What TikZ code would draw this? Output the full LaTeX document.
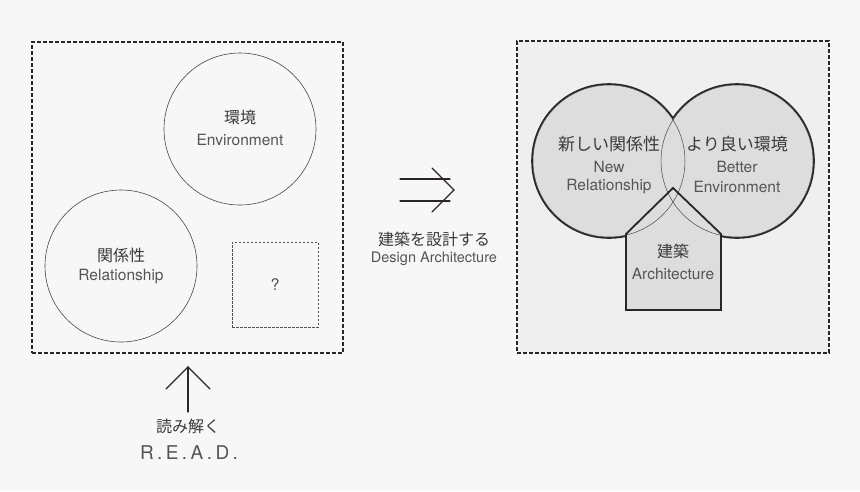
\documentclass[tikz,border=0pt]{standalone}
\usepackage{fontspec}
\setmainfont{TeX Gyre Heros}
\newfontfamily\jp{Noto Sans CJK JP}
\definecolor{bg}{HTML}{F7F7F7}
\definecolor{panel}{HTML}{EFEFEF}
\definecolor{lensgray}{HTML}{DDDDDD}
\definecolor{ink}{HTML}{2B2624}
\definecolor{txt}{HTML}{3A3A3A}
\definecolor{entxt}{HTML}{555555}
\begin{document}
\begin{tikzpicture}[x=1pt,y=-1pt,
  jtext/.style={font=\jp\fontsize{16}{16}\selectfont, text=txt, inner sep=0},
  etext/.style={font=\fontsize{15.5}{15.5}\selectfont, text=entxt, inner sep=0},
  bigdash/.style={draw=ink, line width=1.4, dash pattern=on 4pt off 2pt},
  smalldash/.style={draw=ink!80, line width=0.7, dash pattern=on 2.5pt off 1.5pt},
  thincircle/.style={circle, draw=ink!85, line width=0.6, minimum size=152pt, inner sep=0},
  arrowline/.style={draw=ink, line width=1.1, line cap=round, line join=miter}]
\useasboundingbox (0,0) rectangle (860,491);
\fill[bg] (0,0) rectangle (860,491);

% ---------- left panel ----------
\node[bigdash, rectangle, minimum width=311pt, minimum height=311pt, inner sep=0] (leftbox) at (187.5,197.5) {};
\node[thincircle] (env) at (240,129) {};
\node[thincircle] (rel) at (121,266) {};
\node[smalldash, rectangle, minimum width=86pt, minimum height=85pt, inner sep=0] (qbox) at (275,284.5) {};
\node[jtext] (envj) at (240,117) {環境};
\node[etext] (enve) at (240,140) {Environment};
\node[jtext] (relj) at (121,255) {関係性};
\node[etext] (rele) at (121,277) {Relationship};
\node[etext, font=\fontsize{16}{16}\selectfont] (q) at (275,285) {?};

% ---------- right panel ----------
\node[bigdash, rectangle, fill=panel, minimum width=312pt, minimum height=312pt, inner sep=0] (rightbox) at (673,197) {};
\coordinate (cl) at (609,161);
\coordinate (cr) at (737,161);
\draw[ink, line width=3.6] (cl) circle[radius=76] (cr) circle[radius=76];
\fill[lensgray] (cl) circle[radius=76] (cr) circle[radius=76];
\fill[lensgray] (626,310) -- (626,234) -- (673,188) -- (721,234) -- (721,310) -- cycle;
\draw[ink!85, line width=0.5] (cl) circle[radius=76] (cr) circle[radius=76];
\draw[ink, line width=1.8, line join=miter] (626,310) -- (626,234) -- (673,188) -- (721,234) -- (721,310) -- cycle;
\node[jtext, font=\jp\fontsize{17}{17}\selectfont] (nrj) at (609,144) {新しい関係性};
\node[etext] (nre1) at (609,167) {New};
\node[etext] (nre2) at (609,187) {Relationship};
\node[jtext, font=\jp\fontsize{17}{17}\selectfont] (bej) at (737,144) {より良い環境};
\node[etext] (bee1) at (737,167) {Better};
\node[etext] (bee2) at (737,187) {Environment};
\node[jtext] (archj) at (673,251) {建築};
\node[etext] (arche) at (673,274) {Architecture};

% ---------- middle double arrow ----------
\coordinate (dA1) at (400,179);
\coordinate (dA2) at (450,179);
\coordinate (dB1) at (400,201);
\coordinate (dB2) at (450,201);
\coordinate (dtipT) at (432,168);
\coordinate (dtip) at (454,190);
\coordinate (dtipB) at (432,212);
\draw[arrowline] (dA1) -- (dA2);
\draw[arrowline] (dB1) -- (dB2);
\draw[arrowline] (dtipT) -- (dtip) -- (dtipB);
\node[jtext] (dj) at (434,239) {建築を設計する};
\node[etext, font=\fontsize{14.5}{14.5}\selectfont] (de) at (434,259) {Design Architecture};

% ---------- bottom up arrow ----------
\coordinate (uBase) at (188,412);
\coordinate (uTip) at (188,367);
\coordinate (uL) at (166,389);
\coordinate (uR) at (210,389);
\draw[arrowline] (uBase) -- (uTip);
\draw[arrowline] (uL) -- (uTip) -- (uR);
\node[jtext] (rj) at (188,426) {読み解く};
\node[etext, font=\fontsize{19}{19}\selectfont\addfontfeatures{LetterSpace=18}] (re) at (189,453) {R.E.A.D.};
\end{tikzpicture}
\end{document}
